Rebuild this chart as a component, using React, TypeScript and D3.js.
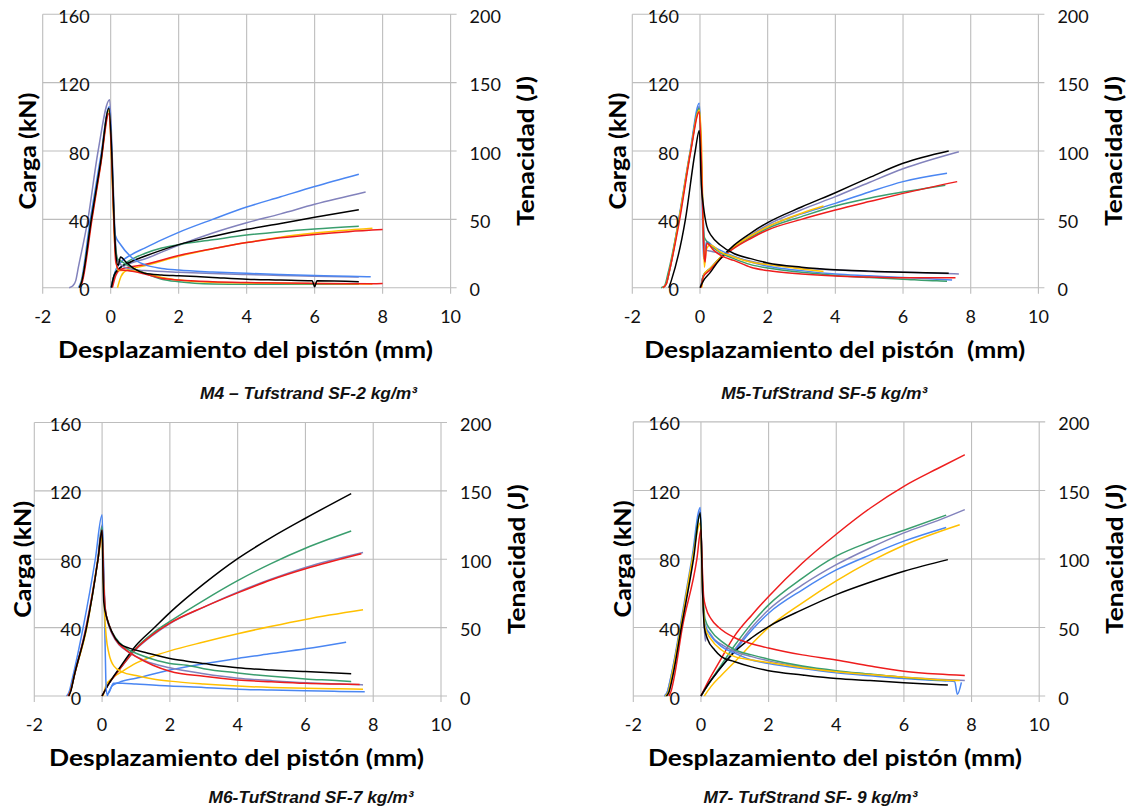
import React from "react";
import * as d3 from "d3";

type Pt = [number, number];

// ---------- axis ticks ----------
const X_TICKS = [-2, 0, 2, 4, 6, 8, 10];
const CARGA_TICKS = [0, 40, 80, 120, 160];
const TENACIDAD_TICKS = [0, 50, 100, 150, 200];

// specimen keys (order = draw order)
const SPECIMENS = ["morado", "azul", "verde", "amarillo", "rojo", "negro"];

// ---------- texts ----------
const X_TITLES = [
  "Desplazamiento del pistón (mm)",
  "Desplazamiento del pistón  (mm)",
  "Desplazamiento del pistón (mm)",
  "Desplazamiento del pistón (mm)",
];
const Y_LEFT_TITLE = "Carga (kN)";
const Y_RIGHT_TITLE = "Tenacidad (J)";
const CAPTIONS = [
  "M4 – Tufstrand SF-2 kg/m³",
  "M5-TufStrand SF-5 kg/m³",
  "M6-TufStrand SF-7 kg/m³",
  "M7- TufStrand SF- 9 kg/m³",
];

// ================= M4 =================
const M4_CARGA_MORADO: Pt[] = [[-1.22,0],[-1.12,1],[-1.03,4],[-0.95,12],[-0.67,40],[-0.37,80],[-0.03,110],[0.05,75],[0.12,35],[0.2,16],[0.4,12],[0.7,10.5],[1,10],[2,9],[3,8.3],[4,7.7],[5,7.2],[6,6.7],[7.3,6.2]];
const M4_CARGA_AZUL: Pt[] = [[-0.95,0],[-0.88,3],[-0.6,40],[-0.3,76],[-0.04,106],[0.05,70],[0.1,40],[0.13,31],[0.3,25],[0.6,18],[1,13.5],[1.5,11.3],[2,10.3],[3,9.2],[4,8.4],[5,7.7],[6,7.1],[7,6.7],[7.65,6.4]];
const M4_CARGA_VERDE: Pt[] = [[-0.92,0],[-0.86,3],[-0.57,40],[-0.3,72],[-0.05,104],[0.05,65],[0.12,30],[0.2,17],[0.35,15],[0.6,12],[1,8.5],[1.5,5],[2,3.5],[3,2.2],[4,2],[6,2],[7.3,2]];
const M4_CARGA_AMARILLO: Pt[] = [[-0.92,0],[-0.86,3],[-0.56,40],[-0.3,72],[-0.05,104],[0.05,60],[0.12,25],[0.22,10],[0.5,10],[1,8.5],[1.5,6],[2,4.5],[3,3.2],[4,2.8],[6,2.4],[7.7,2.2]];
const M4_CARGA_ROJO: Pt[] = [[-0.9,0],[-0.84,3],[-0.55,40],[-0.3,71],[-0.05,102],[0.03,75],[0.1,35],[0.15,15],[0.25,10.5],[0.5,10],[1,8],[1.5,5.5],[2,4.5],[3,3.5],[4,3],[6,2.5],[7.7,2.3],[8.0,2.5]];
const M4_CARGA_NEGRO: Pt[] = [[-0.92,0],[-0.86,3],[-0.57,40],[-0.3,73],[-0.05,105],[0.03,80],[0.1,40],[0.15,20],[0.22,13],[0.29,18],[0.45,15],[0.7,11],[1,8.5],[1.5,7.5],[2,7],[3,6],[4,5],[5,4.5],[5.93,4],[6,0.6],[6.07,4],[7.3,3.5]];

const M4_TEN_MORADO: Pt[] = [[0,0],[0.1,9],[0.25,14],[0.6,18],[1,21],[1.5,26],[2,31],[3,40],[4,47.5],[5,54],[6,61],[7.5,70]];
const M4_TEN_AZUL: Pt[] = [[0.02,0],[0.12,11],[0.28,18],[0.6,24],[1,29],[1.5,35],[2,40.5],[3,50],[4,59],[5,66.5],[6,74],[7.3,83]];
const M4_TEN_VERDE: Pt[] = [[0.02,0],[0.1,9],[0.25,14],[0.5,19],[1,25],[1.5,29],[2,31.5],[3,35],[4,38.5],[5,41],[6,43],[7.3,45]];
const M4_TEN_AMARILLO: Pt[] = [[0.2,0],[0.3,8],[0.45,12.5],[1,16],[2,23],[3,28.5],[4,33],[5,37],[6,40],[7.7,43.5]];
const M4_TEN_ROJO: Pt[] = [[0.05,0],[0.15,9],[0.3,13.5],[1,17],[2,23.5],[3,28.5],[4,33],[5,36.5],[6,39],[7,41],[8,42.5]];
const M4_TEN_NEGRO: Pt[] = [[0.02,0],[0.1,9],[0.25,14],[0.6,19],[1,23],[1.5,27.5],[2,31.5],[3,37.5],[4,42.7],[5,47],[6,51.5],[7.3,57]];

// ================= M5 =================
const M5_CARGA_MORADO: Pt[] = [[-1.1,0],[-1.0,2],[-0.9,10],[-0.62,40],[-0.28,80],[-0.02,106],[0.06,60],[0.12,30],[0.16,22],[0.3,21.5],[0.6,20],[1,18],[1.5,15.5],[2,13.5],[3,11.5],[4,10.3],[5,9.5],[6,9],[7,8.5],[7.65,8]];
const M5_CARGA_AZUL: Pt[] = [[-1.1,0],[-1.0,2],[-0.9,10],[-0.63,40],[-0.29,80],[-0.02,108],[0.05,70],[0.1,17],[0.15,22],[0.2,27],[0.4,24],[0.7,21],[1,18.5],[1.5,15],[2,12.5],[3,10],[4,8],[5,7],[6,6],[7,5],[7.45,4.5]];
const M5_CARGA_VERDE: Pt[] = [[-1.15,0],[-1.05,1],[-0.95,8],[-0.62,40],[-0.28,80],[-0.02,105],[0.06,60],[0.12,30],[0.17,28],[0.3,25],[0.6,20.5],[1,17],[1.5,13.5],[2,11.5],[3,9],[4,7.2],[5,6],[6,5],[7,4],[7.3,3.8]];
const M5_CARGA_AMARILLO: Pt[] = [[-1.1,0],[-1.0,2],[-0.9,10],[-0.62,40],[-0.28,80],[-0.02,104],[0.05,80],[0.1,30],[0.13,12],[0.18,22],[0.3,25],[0.6,21],[1,18],[1.5,15],[2,13.5],[3,11],[3.65,9.5]];
const M5_CARGA_ROJO: Pt[] = [[-1.1,0],[-1.0,2],[-0.9,10],[-0.6,40],[-0.27,80],[-0.02,103],[0.06,60],[0.12,20],[0.15,15],[0.2,26],[0.4,22],[0.7,18],[1,16],[1.5,12],[2,10],[3,8],[4,6.8],[5,6.2],[6,5.8],[7,5.8],[7.55,5.8]];
const M5_CARGA_NEGRO: Pt[] = [[-0.92,0],[-0.85,4],[-0.43,40],[-0.14,80],[-0.02,92],[0.04,60],[0.1,48],[0.2,36],[0.35,30],[0.6,25],[1,20],[1.5,17],[2,14.5],[3,12],[4,10.5],[5,9.7],[6,9],[7.35,8.4]];

const M5_TEN_MORADO: Pt[] = [[0.02,0],[0.1,9],[0.3,14],[0.6,22],[1,30],[1.5,38.5],[2,46],[3,57],[4,66.6],[5,77],[6,87],[7.65,99.5]];
const M5_TEN_AZUL: Pt[] = [[0.03,0],[0.1,9],[0.3,14],[0.6,22],[1,30],[1.5,38],[2,44.6],[3,54],[4,61.7],[5,70],[6,77.6],[7.3,83.7]];
const M5_TEN_VERDE: Pt[] = [[0.03,0],[0.1,9],[0.3,14],[0.6,22],[1,29.5],[1.5,37],[2,43.4],[3,52],[4,59.8],[5,65.5],[6,70],[7.25,75]];
const M5_TEN_AMARILLO: Pt[] = [[0.05,0],[0.12,10],[0.3,14],[0.6,22],[1,30],[1.5,38],[2,44.6],[3,54.5],[3.65,59.8]];
const M5_TEN_ROJO: Pt[] = [[0.03,0],[0.1,8],[0.3,13],[0.6,21],[1,28.8],[1.5,36],[2,42.2],[3,50],[4,56.8],[5,63],[6,69],[7.6,77.6]];
const M5_TEN_NEGRO: Pt[] = [[0,0],[0.1,5],[0.3,11],[0.5,18],[1,31],[1.5,40],[2,47.6],[3,59],[4,69.5],[5,80.5],[6,91],[7.35,100]];

// ================= M6 =================
const M6_CARGA_MORADO: Pt[] = [[-1.0,0],[-0.93,3],[-0.82,12],[-0.48,40],[-0.13,80],[0,100],[0.05,70],[0.1,50],[0.2,41],[0.3,36],[0.5,30],[0.8,25.5],[1.28,20.5],[2,16.5],[3,13],[4,10.4],[5,9],[6,7.8],[7,7],[7.7,6.5]];
const M6_CARGA_AZUL: Pt[] = [[-1.05,0],[-0.98,2],[-0.88,10],[-0.56,40],[-0.2,80],[0,106],[0.07,50],[0.11,10],[0.14,1],[0.2,2],[0.34,7.4],[0.6,7.5],[1,7],[2,5.8],[3,5],[4,4],[5,3.5],[6,3],[7,2.7],[7.75,2.5]];
const M6_CARGA_VERDE: Pt[] = [[-1.0,0],[-0.93,3],[-0.82,12],[-0.46,40],[-0.12,80],[0,99],[0.05,65],[0.1,50],[0.2,42],[0.4,34],[0.7,28],[1,25],[1.5,21.5],[2,19],[2.5,18],[3,16],[4,13.5],[5,11.5],[6,10],[7,8.9],[7.35,8.4]];
const M6_CARGA_AMARILLO: Pt[] = [[-1.0,0],[-0.93,3],[-0.82,12],[-0.45,40],[-0.12,80],[0,93],[0.03,70],[0.07,50],[0.12,35],[0.2,25],[0.35,17.5],[0.6,14],[1,12],[1.5,10],[2,8.7],[3,7],[4,5.8],[5,5],[6,4.5],[7,4.2],[7.7,4]];
const M6_CARGA_ROJO: Pt[] = [[-1.0,0],[-0.93,3],[-0.82,12],[-0.47,40],[-0.12,80],[0,97],[0.05,65],[0.1,50],[0.2,42],[0.4,33],[0.7,27],[1,23],[1.5,18],[2,14.5],[3,11.5],[4,9.4],[5,8.3],[6,7.4],[7,7],[7.6,6.8]];
const M6_CARGA_NEGRO: Pt[] = [[-0.98,0],[-0.92,3],[-0.82,12],[-0.46,40],[-0.12,80],[0,97],[0.03,68],[0.05,55],[0.15,45],[0.3,37],[0.5,31],[0.8,28],[1.28,25.5],[2,22],[2.46,20.5],[3,19],[4,16.5],[5,15.2],[6,14.3],[7.35,13]];

const M6_TEN_MORADO: Pt[] = [[0,0],[0.2,9],[0.5,19],[1,34],[1.5,44.5],[2,53],[3,65],[4,76],[5,85.5],[6,94],[7.7,105]];
const M6_TEN_AZUL: Pt[] = [[0.15,0],[0.3,7.5],[0.5,10],[1,13],[2,19],[3,23.5],[4,27.5],[5,31],[6,34.5],[7.2,39.4]];
const M6_TEN_VERDE: Pt[] = [[0,0],[0.2,9],[0.5,19],[1,35],[1.5,46],[2,54.5],[3,70],[4,84.4],[5,97],[6,108],[7.35,120.6]];
const M6_TEN_AMARILLO: Pt[] = [[0.03,0],[0.12,8],[0.3,13],[0.6,18],[1,24],[1.5,29],[2,33],[3,39.5],[4,45.5],[5,51],[6,56],[7.7,63]];
const M6_TEN_ROJO: Pt[] = [[0,0],[0.2,9],[0.5,19],[1,34.5],[1.5,45],[2,53.3],[3,65],[4,75.4],[5,85],[6,93],[7.65,104]];
const M6_TEN_NEGRO: Pt[] = [[0,0],[0.2,9],[0.5,20],[1,37],[1.5,49],[2,61],[3,82],[4,100.5],[5,116],[6,130],[7.35,148]];

// ================= M7 =================
const M7_CARGA_MORADO: Pt[] = [[-1.08,0],[-1.0,2],[-0.9,10],[-0.6,40],[-0.25,80],[-0.02,108],[0.05,60],[0.1,40],[0.13,32],[0.18,38],[0.4,33],[0.7,29],[1,26],[1.5,23],[2,20.5],[3,17],[4,14.3],[5,12.5],[6,11],[7,9.8],[7.8,9]];
const M7_CARGA_AZUL: Pt[] = [[-1.08,0],[-1.0,2],[-0.9,10],[-0.62,40],[-0.27,80],[-0.02,110],[0.05,60],[0.12,42],[0.3,35],[0.6,29],[1,25],[1.5,21],[2,19],[3,16],[4,13.5],[5,11.8],[6,10.2],[7,9],[7.5,8.5],[7.58,1],[7.7,8]];
const M7_CARGA_VERDE: Pt[] = [[-1.05,0],[-0.97,2],[-0.88,10],[-0.6,40],[-0.25,80],[-0.02,106],[0.05,65],[0.12,45],[0.3,38],[0.6,32],[1,27],[1.5,24],[2,21.5],[3,17.5],[4,14.8],[5,12.8],[6,10.8],[7.25,9]];
const M7_CARGA_AMARILLO: Pt[] = [[-1.05,0],[-0.97,2],[-0.88,10],[-0.6,40],[-0.25,80],[-0.02,101],[0.05,60],[0.12,40],[0.3,33],[0.6,27],[1,23],[1.5,21],[2,19.5],[3,16.5],[4,14.2],[5,12.5],[6,11],[7,9.5],[7.65,9]];
const M7_CARGA_ROJO: Pt[] = [[-0.95,0],[-0.88,3],[-0.8,10],[-0.55,40],[-0.12,80],[0,97],[0.04,75],[0.08,58],[0.14,52],[0.3,45],[0.53,40],[1,34],[1.5,30.5],[2,28],[3,24],[4,21],[5,17.5],[6,14.5],[7,12.8],[7.8,12]];
const M7_CARGA_NEGRO: Pt[] = [[-1.02,0],[-0.95,2],[-0.85,10],[-0.58,40],[-0.22,80],[-0.02,107],[0.05,60],[0.1,40],[0.2,33],[0.4,27],[0.6,23],[1,20],[1.5,17],[2,14.8],[3,12.3],[4,10.2],[5,9],[6,7.8],[7.3,6.4]];

const M7_TEN_MORADO: Pt[] = [[0,0],[0.2,8],[0.5,18],[1,34],[1.5,50],[2,62.9],[3,81],[4,95.8],[5,108],[6,119],[7,128],[7.8,136]];
const M7_TEN_AZUL: Pt[] = [[0,0],[0.2,8],[0.5,18],[1,33],[1.5,48],[2,60.4],[3,77.5],[4,92],[5,103],[6,113],[7.25,123]];
const M7_TEN_VERDE: Pt[] = [[0,0],[0.2,8],[0.5,19],[1,37],[1.5,53],[2,66.5],[3,86],[4,102],[5,112.5],[6,121],[7.25,132]];
const M7_TEN_AMARILLO: Pt[] = [[0.1,0],[0.3,7],[0.6,15],[1,25],[1.5,38],[2,50],[3,68],[4,84],[5,98],[6,110],[7.65,125]];
const M7_TEN_ROJO: Pt[] = [[0,0],[0.2,10],[0.5,23],[1,44],[1.5,59],[2,72.6],[3,97],[4,118],[5,137],[6,153],[7,166],[7.8,176]];
const M7_TEN_NEGRO: Pt[] = [[0,0],[0.2,8],[0.5,18],[1,32.4],[1.5,42.5],[2,50.7],[3,63],[4,74],[5,83],[6,91],[7.3,99.5]];

// grouped in SPECIMENS order
const M4_CARGA = [M4_CARGA_MORADO, M4_CARGA_AZUL, M4_CARGA_VERDE, M4_CARGA_AMARILLO, M4_CARGA_ROJO, M4_CARGA_NEGRO];
const M4_TEN = [M4_TEN_MORADO, M4_TEN_AZUL, M4_TEN_VERDE, M4_TEN_AMARILLO, M4_TEN_ROJO, M4_TEN_NEGRO];
const M5_CARGA = [M5_CARGA_MORADO, M5_CARGA_AZUL, M5_CARGA_VERDE, M5_CARGA_AMARILLO, M5_CARGA_ROJO, M5_CARGA_NEGRO];
const M5_TEN = [M5_TEN_MORADO, M5_TEN_AZUL, M5_TEN_VERDE, M5_TEN_AMARILLO, M5_TEN_ROJO, M5_TEN_NEGRO];
const M6_CARGA = [M6_CARGA_MORADO, M6_CARGA_AZUL, M6_CARGA_VERDE, M6_CARGA_AMARILLO, M6_CARGA_ROJO, M6_CARGA_NEGRO];
const M6_TEN = [M6_TEN_MORADO, M6_TEN_AZUL, M6_TEN_VERDE, M6_TEN_AMARILLO, M6_TEN_ROJO, M6_TEN_NEGRO];
const M7_CARGA = [M7_CARGA_MORADO, M7_CARGA_AZUL, M7_CARGA_VERDE, M7_CARGA_AMARILLO, M7_CARGA_ROJO, M7_CARGA_NEGRO];
const M7_TEN = [M7_TEN_MORADO, M7_TEN_AZUL, M7_TEN_VERDE, M7_TEN_AMARILLO, M7_TEN_ROJO, M7_TEN_NEGRO];

// ---------- styles ----------
const COLORS: Record<string, string> = {
  morado: "#8282bc",
  azul: "#4a86f2",
  verde: "#3a9e6e",
  amarillo: "#ffc000",
  rojo: "#ee1d1d",
  negro: "#000000",
};
const GRID = "#bdbdbd";
const FONT = "Lato, 'Open Sans', sans-serif";
const CAP_FONT = "'Liberation Sans Narrow', 'Arial Narrow', 'Liberation Sans', Arial, sans-serif";

// ---------- layout (pixel positions of each panel) ----------
const LAYOUT = [
  { left: 42.7, right: 450.6, top: 14.3, bottom: 287.7, cargaX: 35.5, titleCx: 245.5, titleW: 375, capCx: 308.5, capW: 217, capY: 399.3 },
  { left: 632.3, right: 1038.4, top: 14.3, bottom: 287.7, cargaX: 625.5, titleCx: 834.7, titleW: 381, capCx: 824.3, capW: 206, capY: 399.3 },
  { left: 34.3, right: 441, top: 422.5, bottom: 696, cargaX: 31, titleCx: 236.5, titleW: 375, capCx: 311, capW: 205, capY: 803 },
  { left: 633.3, right: 1039.2, top: 421.9, bottom: 696, cargaX: 631, titleCx: 835, titleW: 374, capCx: 810.5, capW: 214, capY: 803 },
];

const PANELS = [
  { carga: M4_CARGA, ten: M4_TEN },
  { carga: M5_CARGA, ten: M5_TEN },
  { carga: M6_CARGA, ten: M6_TEN },
  { carga: M7_CARGA, ten: M7_TEN },
];

function Panel({ idx }: { idx: number }) {
  const L = LAYOUT[idx];
  const P = PANELS[idx];
  const x = d3.scaleLinear().domain([-2, 10]).range([L.left, L.right]);
  const yL = d3.scaleLinear().domain([0, 160]).range([L.bottom, L.top]);
  const yR = d3.scaleLinear().domain([0, 200]).range([L.bottom, L.top]);
  const lineL = d3.line<Pt>().x((d) => x(d[0])).y((d) => yL(d[1])).curve(d3.curveMonotoneX);
  const lineR = d3.line<Pt>().x((d) => x(d[0])).y((d) => yR(d[1])).curve(d3.curveMonotoneX);
  const cy = (L.top + L.bottom) / 2;
  const x0 = x(0);
  return (
    <g>
      {/* grid */}
      {CARGA_TICKS.map((t) => (
        <line key={"h" + t} x1={L.left} x2={L.right + 6} y1={yL(t)} y2={yL(t)} stroke={GRID} strokeWidth={1.1} />
      ))}
      {X_TICKS.map((t) => (
        <line key={"v" + t} x1={x(t)} x2={x(t)} y1={L.top} y2={L.bottom + 6} stroke={GRID} strokeWidth={1.1} />
      ))}
      {/* series */}
      {SPECIMENS.map((s, i) => (
        <path key={"t" + s} d={lineR(P.ten[i]) || ""} fill="none" stroke={COLORS[s]} strokeWidth={1.5} strokeLinejoin="round" />
      ))}
      {SPECIMENS.map((s, i) => (
        <path key={"c" + s} d={lineL(P.carga[i]) || ""} fill="none" stroke={COLORS[s]} strokeWidth={1.5} strokeLinejoin="round" />
      ))}
      {/* left tick labels */}
      {CARGA_TICKS.map((t) => (
        <text key={"yl" + t} x={x0 - 21} y={yL(t) + 8.5} textAnchor="end" fontFamily={FONT} fontSize={18} fill="#111">
          {t}
        </text>
      ))}
      {/* right tick labels */}
      {TENACIDAD_TICKS.map((t) => (
        <text key={"yr" + t} x={L.right + 19} y={yR(t) + 8.5} textAnchor="start" fontFamily={FONT} fontSize={18} fill="#111">
          {t}
        </text>
      ))}
      {/* x tick labels */}
      {X_TICKS.map((t) => (
        <text key={"xl" + t} x={x(t)} y={L.bottom + 35} textAnchor="middle" fontFamily={FONT} fontSize={18} fill="#111">
          {t}
        </text>
      ))}
      {/* axis titles */}
      <text x={L.titleCx} y={L.bottom + 70} textAnchor="middle" fontFamily={FONT} fontWeight="bold" fontSize={22}
        textLength={L.titleW} lengthAdjust="spacingAndGlyphs" style={{ whiteSpace: "pre" }} fill="#000">
        {X_TITLES[idx]}
      </text>
      <text transform={`translate(${L.cargaX},${cy}) rotate(-90)`} textAnchor="middle" fontFamily={FONT} fontWeight="bold"
        fontSize={22} textLength={117} lengthAdjust="spacingAndGlyphs" fill="#000">
        {Y_LEFT_TITLE}
      </text>
      <text transform={`translate(${L.right + 83.5},${cy}) rotate(-90)`} textAnchor="middle" fontFamily={FONT} fontWeight="bold"
        fontSize={22} textLength={150} lengthAdjust="spacingAndGlyphs" fill="#000">
        {Y_RIGHT_TITLE}
      </text>
      {/* caption */}
      <text x={L.capCx} y={L.capY} textAnchor="middle" fontFamily={CAP_FONT} fontWeight="bold" fontStyle="italic"
        fontSize={17} textLength={L.capW} lengthAdjust="spacingAndGlyphs" fill="#111">
        {CAPTIONS[idx]}
      </text>
    </g>
  );
}

export default function App() {
  return (
    <div style={{ position: "absolute", left: 0, top: 0, width: 1136, height: 810, background: "#fff" }}>
      <svg width={1136} height={810} viewBox="0 0 1136 810" style={{ display: "block" }}>
        <rect x={0} y={0} width={1136} height={810} fill="#fff" />
        {[0, 1, 2, 3].map((i) => (
          <Panel key={i} idx={i} />
        ))}
      </svg>
    </div>
  );
}
